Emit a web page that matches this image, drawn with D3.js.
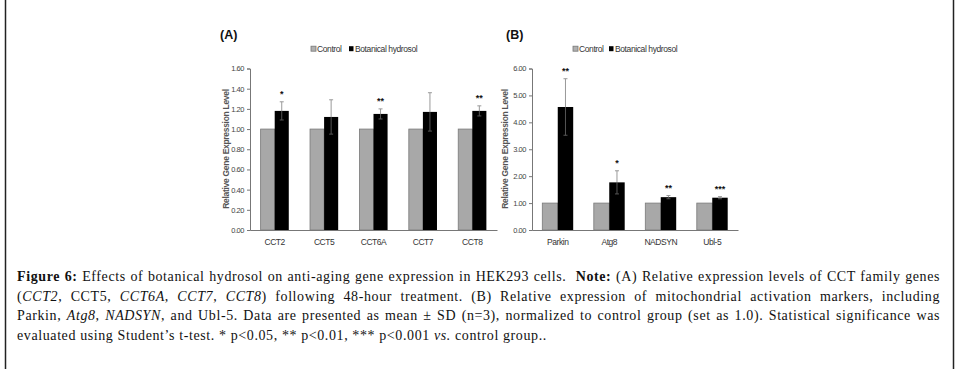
<!DOCTYPE html>
<html>
<head>
<meta charset="utf-8">
<script src="https://cdn.jsdelivr.net/npm/d3@7"></script>
<style>
  body { margin: 0; background: #fff; }
  svg { display: block; }
  .tick text { font-family: "Liberation Sans Narrow", "Arial Narrow", "Liberation Sans", sans-serif; }
</style>
</head>
<body>
<script>
// panel A - CCT family genes
var groupsA = ["CCT2", "CCT5", "CCT6A", "CCT7", "CCT8"];
var controlA = [1, 1, 1, 1, 1];
var treatedA = [1.18, 1.12, 1.15, 1.17, 1.18];
var sdA = [0.09, 0.17, 0.05, 0.19, 0.05];
var sigA = ["*", "", "**", "", "**"];
var ticksA = [0, 0.2, 0.4, 0.6, 0.8, 1.0, 1.2, 1.4, 1.6];

// panel B - mitochondrial markers
var groupsB = ["Parkin", "Atg8", "NADSYN", "Ubl-5"];
var controlB = [1, 1, 1, 1];
var treatedB = [4.57, 1.77, 1.22, 1.2];
var sdB = [1.05, 0.43, 0.06, 0.04];
var sigB = ["**", "*", "**", "***"];
var ticksB = [0, 1, 2, 3, 4, 5, 6];

var seriesNames = ["Control", "Botanical hydrosol"];

var width = 959, height = 369;
var narrow = "'Liberation Sans Narrow', 'Arial Narrow', 'Liberation Sans', sans-serif";

var svg = d3.select("body").append("svg").attr("width", width).attr("height", height);

// frame lines at the sides
svg.append("line").attr("x1", 5.5).attr("x2", 5.5).attr("y1", 0).attr("y2", height).attr("stroke", "#222").attr("stroke-width", 1.5);
svg.append("line").attr("x1", 953.5).attr("x2", 953.5).attr("y1", 0).attr("y2", height).attr("stroke", "#222").attr("stroke-width", 1.5);

function drawPanel(opt) {
  var g = svg.append("g");
  var x = d3.scaleBand().domain(opt.groups).range([opt.x0, opt.x1]).paddingInner(opt.pad).paddingOuter(opt.pad / 2);
  var x1 = d3.scaleBand().domain([0, 1]).range([0, x.bandwidth()]);
  var y = d3.scaleLinear().domain([0, opt.ymax]).range([230, 68.5]);

  // title
  g.append("text").attr("x", opt.titleX).attr("y", 39).text(opt.title)
    .attr("font-family", "'Liberation Sans', Arial, sans-serif").attr("font-weight", "bold").attr("font-size", 12.5).attr("fill", "#111");

  // legend
  var lg = g.append("g").attr("transform", "translate(" + opt.legX + ",48.7)");
  lg.append("rect").attr("x", 0).attr("y", -2.5).attr("width", 5).attr("height", 5).attr("fill", "#b0b0b0").attr("stroke", "#777").attr("stroke-width", 0.8);
  lg.append("text").attr("x", 6).attr("y", 3).text(seriesNames[0]).attr("font-family", narrow).attr("font-size", 8.5).attr("letter-spacing", -0.4).attr("fill", "#333");
  lg.append("rect").attr("x", opt.legGap).attr("y", -2.5).attr("width", 4.5).attr("height", 5).attr("fill", "#000");
  lg.append("text").attr("x", opt.legGap + 6).attr("y", 3).text(seriesNames[1]).attr("font-family", narrow).attr("font-size", 8.5).attr("letter-spacing", -0.4).attr("fill", "#333");

  // y axis
  var yAxis = d3.axisLeft(y).tickValues(opt.ticks).tickFormat(d3.format(".2f")).tickSize(3).tickPadding(3);
  var ya = g.append("g").attr("transform", "translate(" + opt.x0 + ",0)").call(yAxis);
  ya.select(".domain").attr("stroke", "#777");
  ya.selectAll(".tick line").attr("stroke", "#777");
  ya.selectAll(".tick text").attr("font-size", 7.5).attr("letter-spacing", -0.45).attr("fill", "#444");

  // x axis
  var xAxis = d3.axisBottom(x).tickSize(0).tickPadding(9);
  var xa = g.append("g").attr("transform", "translate(0,230)").call(xAxis);
  xa.select(".domain").attr("stroke", "#777");
  xa.selectAll(".tick text").attr("font-size", 8.5).attr("letter-spacing", -0.45).attr("fill", "#333");

  // y axis title
  g.append("text").attr("transform", "translate(" + opt.labX + ",149) rotate(-90)").attr("text-anchor", "middle")
    .text("Relative Gene Expression Level").attr("font-family", narrow).attr("font-weight", "bold").attr("font-size", 8.5)
    .attr("letter-spacing", -0.3).attr("fill", "#555");

  var groups = g.selectAll(".grp").data(opt.groups).enter().append("g").attr("class", "grp")
    .attr("transform", function(d) { return "translate(" + x(d) + ",0)"; });

  groups.append("rect").attr("x", x1(0)).attr("width", x1.bandwidth())
    .attr("y", function(d, i) { return y(opt.control[i]); })
    .attr("height", function(d, i) { return y(0) - y(opt.control[i]); })
    .attr("fill", "#a8a8a8").attr("stroke", "#7a7a7a").attr("stroke-width", 0.8);

  groups.append("rect").attr("x", x1(1)).attr("width", x1.bandwidth())
    .attr("y", function(d, i) { return y(opt.treated[i]); })
    .attr("height", function(d, i) { return y(0) - y(opt.treated[i]); })
    .attr("fill", "#000");

  // error bars
  var cx = x1(1) + x1.bandwidth() / 2;
  groups.append("line").attr("x1", cx).attr("x2", cx)
    .attr("y1", function(d, i) { return y(opt.treated[i] + opt.sd[i]); })
    .attr("y2", function(d, i) { return y(opt.treated[i]); })
    .attr("stroke", "#999").attr("stroke-width", 1);
  groups.append("line").attr("x1", cx).attr("x2", cx)
    .attr("y1", function(d, i) { return y(opt.treated[i]); })
    .attr("y2", function(d, i) { return y(opt.treated[i] - opt.sd[i]); })
    .attr("stroke", "#555").attr("stroke-width", 1);
  groups.append("line").attr("x1", cx - 2).attr("x2", cx + 2)
    .attr("y1", function(d, i) { return y(opt.treated[i] + opt.sd[i]); })
    .attr("y2", function(d, i) { return y(opt.treated[i] + opt.sd[i]); })
    .attr("stroke", "#999").attr("stroke-width", 1);
  groups.append("line").attr("x1", cx - 2).attr("x2", cx + 2)
    .attr("y1", function(d, i) { return y(opt.treated[i] - opt.sd[i]); })
    .attr("y2", function(d, i) { return y(opt.treated[i] - opt.sd[i]); })
    .attr("stroke", "#555").attr("stroke-width", 1);

  // significance stars
  groups.append("text").attr("x", cx).attr("text-anchor", "middle")
    .attr("y", function(d, i) { return y(opt.treated[i] + opt.sd[i]) - 5; })
    .text(function(d, i) { return opt.sig[i]; })
    .attr("font-family", "'Liberation Sans', Arial, sans-serif").attr("font-weight", "bold").attr("font-size", 9).attr("fill", "#111");
}

drawPanel({ groups: groupsA, control: controlA, treated: treatedA, sd: sdA, sig: sigA, ticks: ticksA, ymax: 1.6,
  x0: 250, x1: 497, pad: 0.43, title: "(A)", titleX: 220, legX: 311, legGap: 38, labX: 229 });
drawPanel({ groups: groupsB, control: controlB, treated: treatedB, sd: sdB, sig: sigB, ticks: ticksB, ymax: 6,
  x0: 532, x1: 738, pad: 0.4, title: "(B)", titleX: 506, legX: 573, legGap: 36, labX: 508 });

// caption
var capLines = [
  [["Figure 6:", "b"], [" Effects of botanical hydrosol on anti-aging gene expression in HEK293 cells.  ", ""], ["Note:", "b"], [" (A) Relative expression levels of CCT family genes", ""]],
  [["(", ""], ["CCT2", "i"], [", CCT5, ", ""], ["CCT6A", "i"], [", ", ""], ["CCT7", "i"], [", ", ""], ["CCT8", "i"], [") following 48-hour treatment. (B) Relative expression of mitochondrial activation markers, including", ""]],
  [["Parkin, ", ""], ["Atg8", "i"], [", ", ""], ["NADSYN", "i"], [", and Ubl-5. Data are presented as mean \u00b1 SD (n=3), normalized to control group (set as 1.0). Statistical significance was", ""]],
  [["evaluated using Student\u2019s t-test. * p<0.05, ** p<0.01, *** p<0.001 ", ""], ["vs.", "i"], [" control group..", ""]]
];
var capBase = [281, 300.5, 320, 339.5];
var capLeft = 17, capRight = 940;

capLines.forEach(function(line, li) {
  var t = svg.append("text").attr("x", capLeft).attr("y", capBase[li])
    .attr("font-family", "'Liberation Serif', 'Times New Roman', serif").attr("font-size", 14).attr("fill", "#111")
    .attr("letter-spacing", 0.6).attr("xml:space", "preserve");
  line.forEach(function(seg) {
    var s = t.append("tspan").text(seg[0]);
    if (seg[1] === "b") s.attr("font-weight", "bold");
    if (seg[1] === "i") s.attr("font-style", "italic");
  });
  if (li < capLines.length - 1) {
    var natural = t.node().getComputedTextLength();
    var full = line.map(function(s) { return s[0]; }).join("");
    var spaces = (full.match(/ /g) || []).length;
    t.attr("word-spacing", Math.max(0, (capRight - capLeft - natural) / spaces));
  }
});
</script>
</body>
</html>
